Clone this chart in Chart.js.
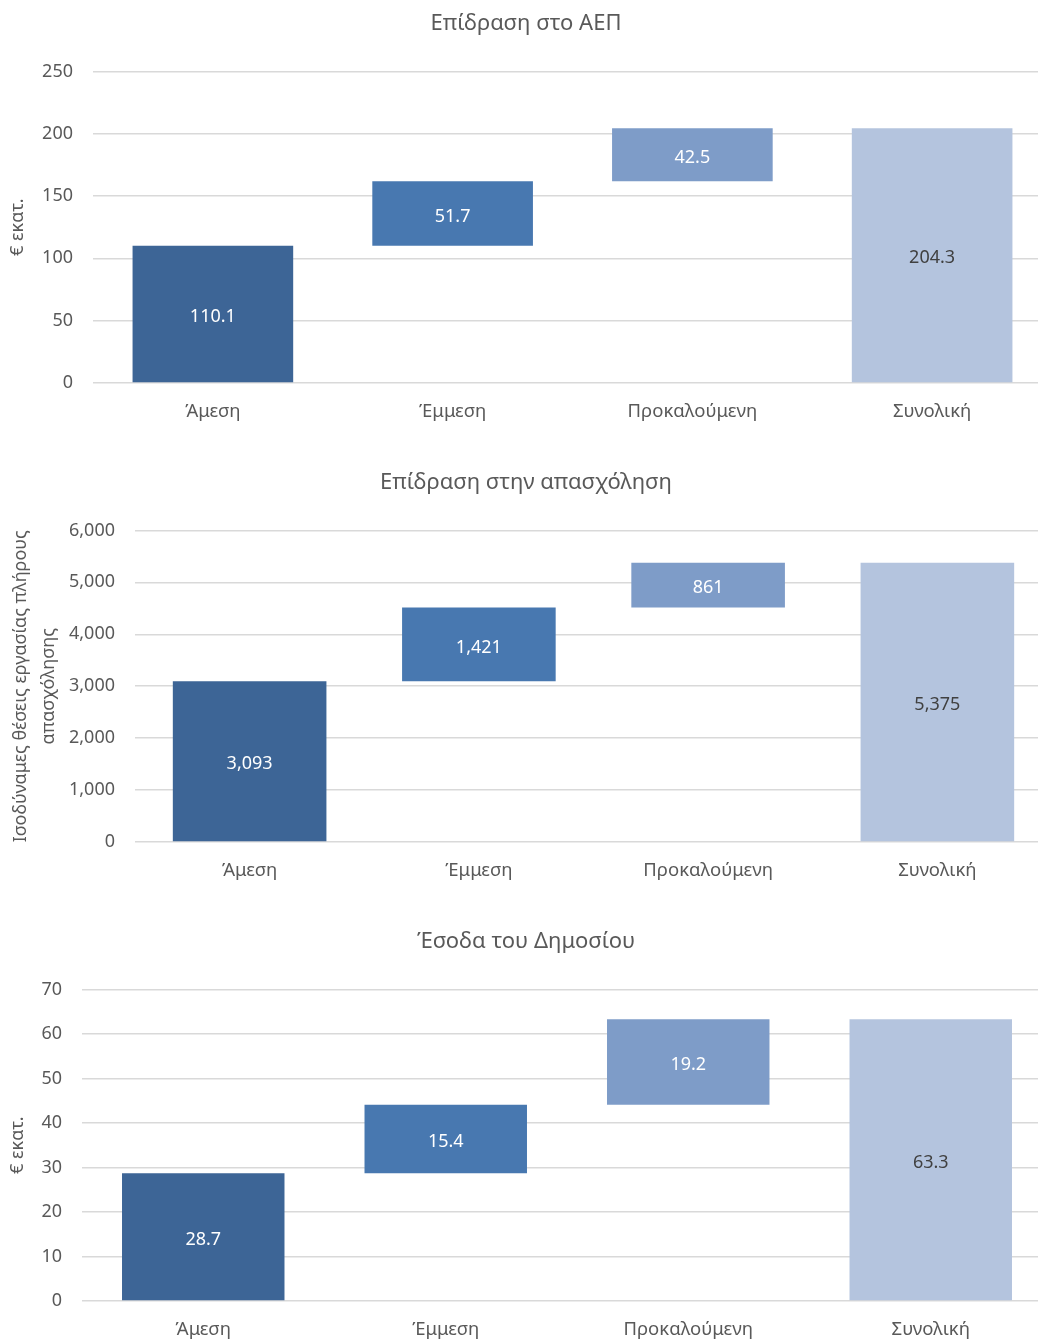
<!DOCTYPE html>
<html>
<head>
<meta charset="utf-8">
<script src="https://cdn.jsdelivr.net/npm/chart.js@4.4.1/dist/chart.umd.min.js"></script>
<style>
html, body { margin: 0; padding: 0; background: #fff; overflow: hidden; width: 1038px; height: 1339px; }
.wrap { position: absolute; left: 0; width: 1060px; height: 459px; }
</style>
</head>
<body>
<div class="wrap" style="top:0"><canvas id="gdpChart" width="1060" height="459"></canvas></div>
<div class="wrap" style="top:459px"><canvas id="jobsChart" width="1060" height="459"></canvas></div>
<div class="wrap" style="top:918px"><canvas id="taxChart" width="1060" height="459"></canvas></div>
<script>
const categories = ['Άμεση', 'Έμμεση', 'Προκαλούμενη', 'Συνολική'];

const gdpValues = [110.1, 51.7, 42.5, 204.3];
const jobsValues = [3093, 1421, 861, 5375];
const taxValues = [28.7, 15.4, 19.2, 63.3];

const gdpTicks = [0, 50, 100, 150, 200, 250];
const jobsTicks = [0, 1000, 2000, 3000, 4000, 5000, 6000];
const taxTicks = [0, 10, 20, 30, 40, 50, 60, 70];

const barColors = ['#3d6596', '#4878b0', '#7e9cc8', '#b4c4de'];
const labelColors = ['#ffffff', '#ffffff', '#ffffff', '#404040'];

const FONT = "'Noto Sans', sans-serif";
const TEXT = '#595959';

Chart.defaults.font.family = FONT;
Chart.defaults.color = TEXT;

// waterfall: the steps float on the running sum, the total starts from zero
function toRanges(values) {
    let run = 0;
    return values.map((v, i) => {
        if (i === values.length - 1) return [0, v];
        const r = [run, run + v];
        run += v;
        return r;
    });
}

// value written in the middle of each bar
function barLabels(values, fmt) {
    return {
        id: 'barLabels',
        afterDatasetsDraw(chart) {
            const c = chart.ctx;
            const meta = chart.getDatasetMeta(0);
            c.save();
            c.font = `18px ${FONT}`;
            c.textAlign = 'center';
            c.textBaseline = 'middle';
            meta.data.forEach((bar, i) => {
                c.fillStyle = labelColors[i];
                c.fillText(fmt(values[i]), bar.x, (bar.y + bar.base) / 2 + 3);
            });
            c.restore();
        }
    };
}

function makeChart(id, title, values, ticks, yTitle, yWidth, titleLineHeight, fmt) {
    const ctx = document.getElementById(id).getContext('2d');
    return new Chart(ctx, {
        type: 'bar',
        data: {
            labels: categories,
            datasets: [{
                data: toRanges(values),
                backgroundColor: barColors,
                borderWidth: 0,
                borderSkipped: false,
                categoryPercentage: 1,
                barPercentage: 0.67
            }]
        },
        options: {
            responsive: false,
            animation: false,
            locale: 'en-US',
            layout: { padding: { left: 0, right: 8, top: 0, bottom: 0 } },
            plugins: {
                legend: { display: false },
                tooltip: { enabled: false },
                title: {
                    display: true,
                    text: title,
                    color: TEXT,
                    font: { size: 22, weight: 'normal', lineHeight: 1.2 },
                    padding: { top: 11, bottom: 34 }
                }
            },
            scales: {
                x: {
                    grid: { display: false, drawTicks: false },
                    border: { display: false },
                    ticks: { color: TEXT, font: { size: 18.5 }, padding: 18 },
                    afterFit: s => { s.height = 76; }
                },
                y: {
                    min: ticks[0],
                    max: ticks[ticks.length - 1],
                    afterBuildTicks: s => { s.ticks = ticks.map(v => ({ value: v })); },
                    grid: { color: '#d9d9d9', lineWidth: 1.5, drawTicks: false },
                    border: { display: false },
                    ticks: { color: TEXT, font: { size: 18 }, padding: 20 },
                    title: {
                        display: true,
                        text: yTitle,
                        color: TEXT,
                        font: { size: 18, lineHeight: titleLineHeight },
                        padding: { top: 7, bottom: 0 }
                    },
                    afterFit: s => { s.width = yWidth; }
                }
            }
        },
        plugins: [barLabels(values, fmt)]
    });
}

const oneDecimal = v => v.toFixed(1);
const thousands = v => v.toLocaleString('en-US');

makeChart('gdpChart', 'Επίδραση στο ΑΕΠ', gdpValues, gdpTicks, '€ εκατ.', 93, 1.2, oneDecimal);
makeChart('jobsChart', 'Επίδραση στην απασχόληση', jobsValues, jobsTicks,
    ['Ισοδύναμες θέσεις εργασίας πλήρους', 'απασχόλησης'], 135, 1.55, thousands);
makeChart('taxChart', 'Έσοδα του Δημοσίου', taxValues, taxTicks, '€ εκατ.', 82, 1.2, oneDecimal);
</script>
</body>
</html>
